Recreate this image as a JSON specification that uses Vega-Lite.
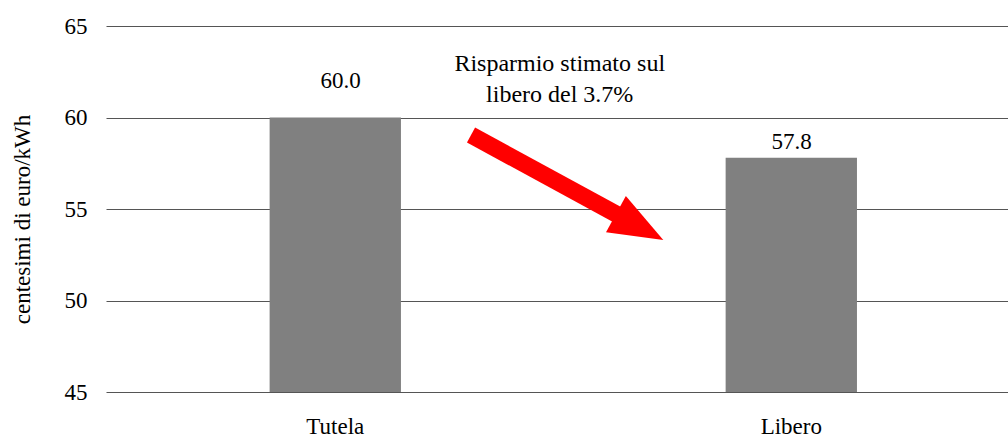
{
  "$schema": "https://vega.github.io/schema/vega-lite/v6.json",
  "autosize": {"type": "none"},
  "width": 902,
  "height": 366,
  "padding": {"left": 106, "top": 26, "right": 0, "bottom": 45},
  "background": "white",
  "config": {
    "view": {"stroke": null},
    "font": "Liberation Serif",
    "text": {"font": "Liberation Serif", "color": "#000000"}
  },
  "datasets": {
    "bars": [
      {"categoria": "Tutela", "valore": 60.0},
      {"categoria": "Libero", "valore": 57.8}
    ],
    "shaft": [
      {"x0": 0.4047, "y0": 59.04, "x1": 0.5676, "y1": 54.67}
    ],
    "head": [
      {"xh": 0.5916, "yh": 54.01}
    ],
    "note": [
      {"xn": 0.503, "yn": 62.56, "testo": "Risparmio stimato sul\nlibero del 3.7%"}
    ]
  },
  "resolve": {"scale": {"x": "independent"}, "axis": {"x": "independent"}},
  "layer": [
    {
      "data": {"name": "bars"},
      "mark": {"type": "bar", "color": "#808080"},
      "encoding": {
        "x": {
          "field": "categoria", "type": "nominal", "sort": null,
          "scale": {"paddingInner": 0.712, "paddingOuter": 0.345, "align": 0.52},
          "axis": {
            "title": null, "domain": false, "ticks": false,
            "labelAngle": 0, "labelFont": "Liberation Serif", "labelFontSize": 23,
            "labelColor": "#000000", "labelBaseline": "alphabetic", "labelPadding": 41
          }
        },
        "y": {
          "field": "valore", "type": "quantitative",
          "scale": {"domain": [45, 65], "nice": false, "zero": false},
          "axis": {
            "title": "centesimi di euro/kWh",
            "titleFont": "Liberation Serif", "titleFontSize": 23, "titleFontWeight": "normal",
            "titleColor": "#000000", "titlePadding": 30, "titleY": 193,
            "values": [45, 50, 55, 60, 65],
            "domain": false, "ticks": false,
            "labelFont": "Liberation Serif", "labelFontSize": 23, "labelColor": "#000000",
            "labelPadding": 19,
            "grid": true, "gridColor": "#555555", "gridWidth": 1
          }
        },
        "y2": {"datum": 45}
      }
    },
    {
      "data": {"name": "bars"},
      "transform": [{"filter": "datum.categoria === 'Tutela'"}],
      "mark": {"type": "text", "baseline": "alphabetic", "dy": -30, "fontSize": 23, "font": "Liberation Serif"},
      "encoding": {
        "x": {"field": "categoria", "type": "nominal", "sort": ["Tutela", "Libero"],
              "scale": {"domain": ["Tutela", "Libero"], "paddingInner": 0.712, "paddingOuter": 0.345, "align": 0.52},
              "axis": null},
        "y": {"field": "valore", "type": "quantitative"},
        "text": {"field": "valore", "type": "quantitative", "format": ".1f"}
      }
    },
    {
      "data": {"name": "bars"},
      "transform": [{"filter": "datum.categoria === 'Libero'"}],
      "mark": {"type": "text", "baseline": "alphabetic", "dy": -9, "fontSize": 23, "font": "Liberation Serif"},
      "encoding": {
        "x": {"field": "categoria", "type": "nominal", "sort": ["Tutela", "Libero"],
              "scale": {"domain": ["Tutela", "Libero"], "paddingInner": 0.712, "paddingOuter": 0.345, "align": 0.52},
              "axis": null},
        "y": {"field": "valore", "type": "quantitative"},
        "text": {"field": "valore", "type": "quantitative", "format": ".1f"}
      }
    },
    {
      "data": {"name": "shaft"},
      "mark": {"type": "rule", "color": "#ff0000", "strokeWidth": 17, "strokeCap": "butt"},
      "encoding": {
        "x": {"field": "x0", "type": "quantitative", "scale": {"domain": [0, 1], "nice": false, "zero": false}, "axis": null},
        "x2": {"field": "x1"},
        "y": {"field": "y0", "type": "quantitative"},
        "y2": {"field": "y1"}
      }
    },
    {
      "data": {"name": "head"},
      "mark": {
        "type": "point", "filled": true, "color": "#ff0000", "opacity": 1,
        "shape": "M-1,-0.765L1,0L-1,0.765Z", "size": 2916, "angle": 28.7
      },
      "encoding": {
        "x": {"field": "xh", "type": "quantitative", "scale": {"domain": [0, 1], "nice": false, "zero": false}, "axis": null},
        "y": {"field": "yh", "type": "quantitative"}
      }
    },
    {
      "data": {"name": "note"},
      "mark": {"type": "text", "baseline": "alphabetic", "align": "center", "fontSize": 24, "lineHeight": 31, "lineBreak": "\n", "font": "Liberation Serif"},
      "encoding": {
        "x": {"field": "xn", "type": "quantitative", "scale": {"domain": [0, 1], "nice": false, "zero": false}, "axis": null},
        "y": {"field": "yn", "type": "quantitative"},
        "text": {"field": "testo", "type": "nominal"}
      }
    }
  ]
}
